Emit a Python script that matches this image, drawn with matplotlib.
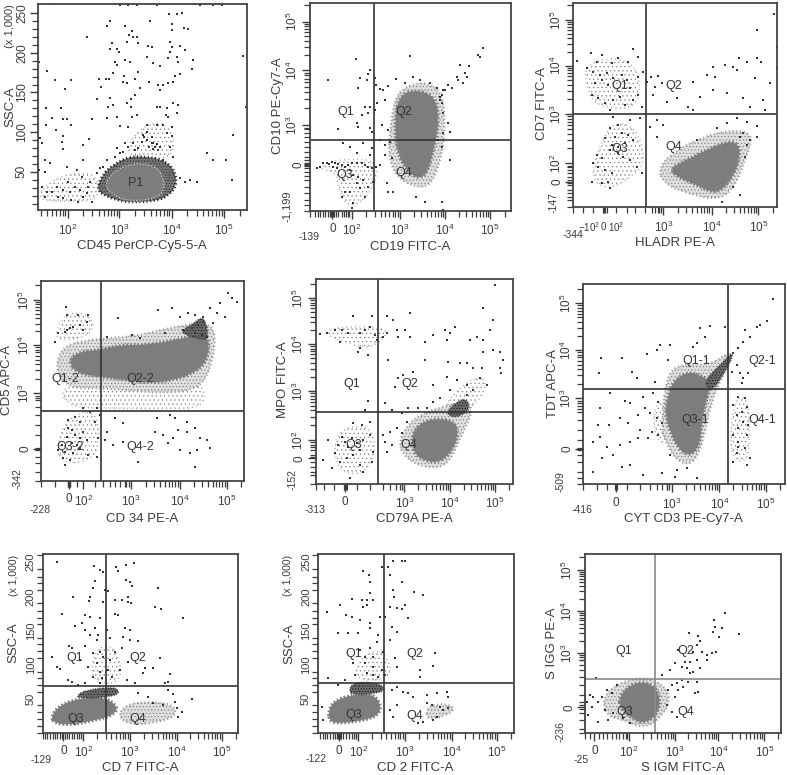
import numpy as np
import matplotlib
matplotlib.use("Agg")
import matplotlib.pyplot as plt
from matplotlib.path import Path
from matplotlib.patches import PathPatch

plt.rcParams['font.family'] = ['Liberation Sans', 'DejaVu Sans']
plt.rcParams['mathtext.fontset'] = 'custom'
plt.rcParams['mathtext.rm'] = 'Liberation Sans'
plt.rcParams['mathtext.default'] = 'regular'
plt.rcParams['hatch.linewidth'] = 0.4

W, H = 787, 775
INK = '#3c3c3c'

# values are read off the scan, in channel units of each plot
# panel 1
p1_dots = [(152,12),(360,14),(385,14),(410,14),(440,13),(470,14),(505,12),(530,9),(545,10),(575,13),(600,14),(640,14),(665,14),
 (507,42),(532,42),(545,38),(450,63),(330,63),(322,77),(375,77),(517,73),(517,90),(553,85),(563,88),(261,112),(395,92),(388,105),
 (400,110),(410,112),(380,125),(413,128),(335,130),(510,127),(515,142),(540,138),(330,148),(350,148),(358,155),(445,138),(455,142),
 (510,155),(556,150),(730,168),(117,185),(115,205),(142,213),(165,241),(213,241),(195,266),(298,238),(318,238),(328,238),(303,260),
 (345,185),(340,220),(350,195),(375,180),(390,185),(372,228),(405,237),(380,250),(370,245),(415,215),(440,170),(460,190),(480,198),
 (505,175),(530,170),(535,185),(578,180),(576,208),(540,222),(525,228),(520,245),(505,248),(448,245),(420,265),(392,297),(405,285),
 (475,255),(490,255),(480,270),(290,298),(330,295),(325,320),(340,315),(380,310),(392,320),(410,345),(350,350),(320,355),(275,358),
 (182,325),(137,325),(155,353),(190,357),(200,357),(137,375),(168,390),(212,375),(190,408),(185,425),(188,447),(120,415),(127,430),
 (112,440),(267,418),(248,436),(360,378),(385,380),(395,350),(470,320),(480,322),(500,325),(520,310),(533,315),(497,345),(505,352),
 (530,340),(440,375),(470,375),(490,375),(515,380),(500,400),(515,408),(430,405),(375,430),(400,430),(415,445),(440,420),(460,430),
 (475,450),(480,440),(490,480),(520,470),(510,440),(622,460),(638,480),(677,480),(700,405),(697,540),(738,320),(592,547),(570,540),
 (540,535),(555,545),(135,480),(150,488),(118,510),(135,515),(115,540),(125,560),(140,575),(155,575),(135,590),(175,590),(190,595),
 (212,600),(235,605),(250,590),(275,605),(240,570),(225,560),(245,530),(205,545),(210,575),(188,570),(170,560),(230,510),(200,500),
 (250,480),(270,545),(265,560),(260,580),(290,520),(300,505),(310,500),(320,480),(345,470),(360,460),(385,440),(455,430),(465,440),
 (470,432),(458,448),(448,440),(432,410),(425,425),(440,395),(455,410),(405,450),(370,455),(350,445)]
p1_core = [(315,555),(330,530),(350,510),(385,495),(420,490),(460,498),(480,515),(493,545),(490,575),(470,592),(440,600),(395,602),(360,595),(335,580)]
p1_fringe = [(290,565),(310,520),(340,495),(385,470),(440,470),(490,480),(525,510),(530,560),(500,590),(470,602),(395,608),(350,600),(310,585)]
p1_clouds = [[(115,600),(130,560),(200,520),(290,520),(300,600),(200,605)], [(360,470),(430,370),(510,370),(530,480)]]

# panel 2
p2_dots = [(175,240),(257,178),(205,388),(420,168),(640,143),(625,165),(630,170),(570,195),(598,198),(585,218),(562,230),(565,240),(590,232),
 (578,248),(300,210),(295,222),(270,235),(290,240),(315,235),(318,255),(378,238),(355,258),(330,268),(340,270),(265,265),(285,320),(300,320),
 (295,340),(275,345),(320,310),(345,300),(315,330),(262,368),(265,380),(300,385),(305,395),(335,375),(355,390),(535,255),(545,265),(525,270),
 (515,285),(510,300),(520,340),(535,370),(540,395),(540,480),(160,490),(150,500),(140,505),(170,488),(178,492),(185,485),(195,490),(205,492),
 (190,500),(200,505),(215,495),(225,500),(235,495),(245,490),(260,490),(275,490),(285,495),(295,500),(305,505),(318,500),(330,495),(240,510),
 (250,525),(265,530),(280,540),(260,550),(270,565),(285,590),(240,575),(225,575),(215,590),(250,610),(245,625),(295,560),(310,545),(220,430),
 (240,440),(260,460),(280,430),(305,445),(300,465),(345,465),(365,475),(350,550),(355,575),(370,575),(465,605),(438,590),(520,630),(515,605),
 (330,420),(345,435),(360,425),(505,420),(515,440),(520,400),(520,270),(515,310),(510,290),(500,265),(480,250),(450,240),(430,232),(405,250)]
p2_core = [(385,300),(410,275),(450,272),(490,290),(505,330),(502,400),(490,450),(470,525),(440,535),(410,510),(385,465),(375,400),(378,340)]
p2_fringe = [(360,390),(375,290),(410,258),(470,245),(520,280),(525,400),(510,490),(480,560),(430,560),(380,530),(355,470)]
p2_clouds = [[(140,505),(200,478),(310,478),(325,520),(290,600),(230,620),(205,570),(200,515)]]

# panel 3
p3_dots = [(142,182),(183,160),(215,165),(200,185),(170,205),(190,215),(210,225),(230,220),(245,190),(265,175),(295,185),(310,148),(325,170),
 (195,250),(215,240),(235,255),(250,235),(275,225),(290,240),(300,265),(325,230),(340,215),(185,285),(205,295),(225,310),(250,300),(270,290),
 (285,315),(310,300),(325,285),(335,320),(240,330),(362,230),(385,228),(375,260),(395,250),(350,245),(370,285),(410,305),(440,295),(475,320),
 (490,330),(510,290),(530,225),(555,230),(490,245),(550,200),(585,195),(610,200),(628,175),(650,185),(682,175),(693,185),(682,90),(733,42),
 (620,210),(675,235),(720,250),(740,205),(740,140),(590,280),(640,295),(700,300),(705,330),(660,320),(550,270),(250,350),(265,375),(300,360),
 (330,355),(240,385),(225,415),(255,410),(275,400),(245,435),(265,440),(285,430),(295,405),(310,420),(200,465),(215,475),(240,450),(265,460),
 (280,470),(205,500),(225,510),(245,520),(235,545),(215,548),(240,565),(190,490),(185,545),(300,480),(320,500),(335,520),(360,380),(380,360),
 (400,375),(380,410),(500,420),(560,385),(590,370),(620,355),(650,365),(680,378),(640,400),(630,410),(660,420),(650,435),(680,410),(645,470),
 (575,605),(630,585),(610,560)]
p3_core = [(420,505),(470,480),(530,450),(590,425),(625,430),(630,470),(610,530),(570,575),(540,575),(490,550),(440,530)]
p3_fringe = [(385,500),(440,450),(520,410),(600,390),(670,400),(650,470),(610,570),(560,600),(470,580),(400,550)]
p3_clouds = [[(170,190),(260,170),(330,210),(325,330),(190,320),(165,240)], [(190,490),(240,365),(320,380),(345,480),(320,520),(240,570),(190,545)]]

# panel 4
p4_dots = [(197,125),(200,150),(235,150),(265,150),(210,190),(200,195),(220,185),(240,180),(260,170),(250,195),(195,200),(175,205),(165,230),
 (355,160),(475,135),(515,130),(540,155),(565,145),(585,150),(610,155),(630,130),(660,115),(685,85),(695,100),(712,110),(650,145),(675,155),
 (640,175),(550,195),(575,190),(595,180),(610,170),(585,205),(605,210),(620,215),(495,205),(420,220),(395,210),(320,215),
 (215,495),(225,510),(240,520),(230,540),(215,535),(200,515),(205,490),(250,500),(260,525),(240,550),(220,565),(195,560),(185,540),(175,555),
 (210,585),(195,600),(190,580),(265,570),(290,575),(295,520),(285,470),(270,440),(250,430),(300,450),(290,430),(240,470),(225,455),(205,465),
 (315,525),(320,500),(340,540),(370,530),(345,460),(370,475),(415,590),(465,500),(490,510),(520,520),(535,495),(560,500),(585,490),(600,520),
 (525,460),(510,450),(470,460),(560,470),(620,525),(630,550),(590,555),(570,565),(585,605),(540,555),(505,535)]
p4_core = [(205,285),(240,260),(300,255),(360,240),(440,240),(530,225),(610,205),(628,230),(620,290),(580,325),(520,345),(450,355),(380,345),(300,335),(230,325)]
p4_fringe = [(165,320),(185,240),(300,220),(400,215),(500,190),(620,170),(650,210),(630,320),(590,375),(480,385),(380,375),(300,370),(210,370)]
p4_dark = [(545,195),(575,180),(605,155),(620,175),(625,225),(590,220),(555,210)]
p4_clouds = [[(165,200),(200,140),(275,150),(280,210),(180,230)], [(170,545),(200,460),(290,430),(300,560),(240,595),(185,590)],
             [(175,370),(300,350),(480,365),(610,350),(615,430),(480,430),(300,430),(210,425)]]

# panel 5
p5_dots = [(675,60),(640,130),(668,165),(250,153),(305,153),(352,153),(370,165),(420,145),(150,207),(170,205),(195,195),(215,195),(235,205),
 (270,205),(285,195),(300,185),(315,210),(320,225),(340,215),(350,205),(380,195),(405,195),(420,215),(385,215),(210,230),(270,250),(295,270),
 (265,260),(490,210),(465,232),(525,195),(540,205),(555,185),(530,225),(600,225),(620,215),(640,225),(660,195),(640,260),(670,255),(690,260),
 (698,285),(690,310),(692,325),(465,285),(535,290),(570,295),(590,295),(610,310),(635,310),(355,285),(385,340),(430,320),(400,330),(375,365),
 (490,360),(530,335),(560,345),(590,360),(630,340),(650,360),(610,375),(590,390),(540,375),(510,400),(490,410),(345,415),(295,408),(285,435),
 (365,435),(445,430),(470,430),(225,530),(235,545),(245,520),(260,535),(270,555),(280,525),(215,515),(205,540),(195,565),(210,590),(230,580),
 (250,570),(270,600),(240,640),(280,620),(300,510),(310,560),(305,590),(250,475),(275,480),(300,470),(160,585),(175,525),(185,610),(340,510),
 (360,500),(380,490),(395,505),(345,530),(365,540),(350,560),(410,470),(395,445),(415,430)]
p5_core = [(425,510),(450,475),(500,460),(555,470),(565,510),(545,560),(510,590),(470,590),(430,565)]
p5_fringe = [(385,530),(420,470),(470,440),(540,420),(590,410),(610,440),(570,520),(540,590),(500,610),(440,600),(400,570)]
p5_dark = [(530,440),(560,410),(590,400),(600,430),(570,455),(540,455)]
p5_clouds = [[(160,205),(200,185),(340,185),(350,215),(300,250),(230,235)], [(190,560),(210,490),(300,480),(320,560),(280,630),(210,620)],
             [(510,430),(600,340),(650,340),(640,390),(590,440)]]

# panel 6
p6_dots = [(730,103),(710,168),(690,180),(680,185),(645,195),(660,215),(640,230),(625,250),(610,265),(510,188),(540,183),(585,185),(525,215),
 (500,235),(490,245),(390,240),(420,240),(380,255),(350,268),(275,278),(212,278),(207,323),(305,320),(320,340),(375,350),(415,285),(240,385),
 (285,408),(300,415),(340,395),(370,385),(385,410),(210,430),(345,430),(360,445),(380,460),(395,475),(325,450),(270,460),(205,480),(238,480),
 (295,475),(330,495),(365,500),(385,510),(190,530),(210,515),(270,540),(300,530),(325,520),(355,520),(230,545),(250,570),(215,580),(190,620),
 (275,605),(300,600),(340,630),(395,625),(435,635),(500,640),(470,610),(440,615),(420,570),(610,420),(625,395),(645,400),(650,425),(635,440),
 (620,450),(640,470),(655,480),(625,490),(610,510),(625,530),(650,510),(645,550),(620,565),(610,590),(660,578),(650,600),(625,545),(635,355),
 (640,340),(655,325),(630,325),(605,320),(620,300)]
p6_core = [(430,350),(470,320),(510,330),(545,350),(530,400),(515,470),(510,540),(480,575),(445,550),(420,500),(405,440),(415,390)]
p6_fringe = [(395,470),(410,320),(470,295),(540,300),(590,265),(612,265),(545,400),(520,530),(490,600),(440,590),(400,520)]
p6_dark = [(530,340),(560,310),(590,280),(610,262),(600,295),(575,335),(548,375),(530,370)]
p6_clouds = [[(370,430),(400,400),(410,540),(375,520)], [(600,520),(615,400),(650,395),(660,470),(655,590),(610,585)]]

# panel 7
p7_dots = [(170,127),(282,137),(300,150),(348,142),(355,152),(378,135),(403,130),(310,155),(378,180),(390,185),(395,197),(285,183),(280,205),
 (315,210),(325,212),(475,203),(218,230),(270,230),(268,243),(385,232),(385,245),(310,245),(345,240),(365,240),(392,248),(465,262),(482,268),
 (187,282),(255,285),(270,292),(300,295),(345,282),(355,285),(550,295),(225,317),(245,310),(285,325),(320,330),(375,325),(390,330),(295,345),
 (255,330),(270,345),(290,360),(330,355),(370,350),(390,360),(415,363),(208,378),(215,383),(255,378),(280,400),(300,395),(345,395),(365,385),
 (155,410),(480,415),(240,420),(265,440),(290,430),(310,410),(330,420),(385,425),(170,440),(180,448),(300,455),(325,450),(360,450),(435,445),
 (460,445),(510,462),(205,480),(215,485),(280,470),(305,475),(335,470),(380,480),(430,460),(495,490),(505,485),(235,495),(255,490),(300,490),
 (405,490),(520,522),(505,510),(575,537),(415,520),(445,530),(460,550),(490,555),(525,545),(530,565),(545,575),(535,590)]
p7_core = [(152,590),(180,555),(240,535),(310,530),(355,560),(340,585),(290,600),(210,615),(165,610)]
p7_fringe = [(370,560),(420,545),(520,550),(530,590),(450,612),(385,612),(355,590)]
p7_dark = [(230,525),(260,510),(340,500),(360,515),(340,530),(240,535)]
p7_clouds = [[(270,490),(285,380),(350,380),(370,490)]]

# panel 8
p8_dots = [(172,275),(210,255),(245,237),(280,152),(297,165),(300,185),(335,140),(355,140),(360,165),(368,122),(395,122),(405,122),(395,185),
 (300,220),(290,240),(310,240),(275,240),(280,262),(290,255),(433,215),(460,225),(370,210),(372,232),(360,262),(380,265),(405,255),(395,268),
 (228,285),(245,290),(270,300),(300,310),(330,290),(345,290),(415,295),(205,340),(235,340),(265,340),(300,325),(325,345),(365,320),(380,335),
 (360,360),(320,365),(300,385),(270,390),(285,410),(310,410),(340,395),(375,415),(495,400),(248,430),(285,430),(310,440),(335,450),(380,440),
 (450,450),(490,437),(450,470),(255,465),(290,460),(310,465),(325,470),(345,465),(175,475),(205,495),(225,480),(380,500),(400,515),(470,525),
 (500,520),(530,515),(535,530),(430,530),(415,520),(365,510),(155,560),(160,600),(470,550),(485,555),(510,560),(520,570),(535,565),(500,590),
 (490,600),(460,605),(445,610),(380,555),(360,570),(370,590)]
p8_core = [(175,575),(190,545),(240,525),(310,520),(335,560),(320,590),(260,605),(195,610),(178,600)]
p8_fringe = [(470,560),(520,550),(560,565),(520,590),(470,600)]
p8_dark = [(235,510),(255,485),(330,490),(345,510),(320,520),(250,525)]
p8_clouds = [[(245,480),(280,400),(345,390),(370,480)]]

# panel 9
p9_dots = [(198,475),(585,278),(552,300),(575,323),(555,322),(548,337),(568,350),(627,343),(477,340),(503,348),(510,362),(500,375),(445,390),
 (517,395),(490,395),(558,395),(545,400),(530,405),(500,420),(480,425),(465,425),(435,430),(470,445),(490,455),(510,445),(530,420),(455,440),
 (420,450),(395,465),(480,460),(500,485),(475,485),(455,480),(440,490),(425,495),(445,510),(435,530),(415,510),(460,500),(495,520),(505,517),
 (410,555),(440,590),(425,575),(180,525),(190,530),(215,530),(170,545),(185,560),(205,545),(225,570),(175,585),(205,605),(245,520),(262,495),
 (230,510),(250,580),(280,595),(300,610),(235,600)]
p9_core = [(268,530),(300,495),(345,485),(385,510),(390,560),(370,595),(335,610),(300,590),(270,565)]
p9_fringe = [(215,545),(250,495),(340,468),(410,500),(420,550),(385,600),(340,625),(280,600),(235,590)]

def log_minors(decades, lo, hi):
    # log spaced ticks between the labelled decades, also one decade past each end
    pos = sorted(decades.items())
    step = pos[1][1] - pos[0][1]
    vals = [pos[0][1] - step] + [v for k, v in pos]
    out = []
    for i, v in enumerate(vals):
        s = (vals[i + 1] - v) if i + 1 < len(vals) else step
        for k in range(2, 10):
            t = v + s * np.log10(k)
            if min(lo, hi) <= t <= max(lo, hi):
                out.append(t)
    return out

def round_path(pts):
    # closed outline with rounded corners, the read points are the control points
    p = np.array(pts, dtype=float)
    n = len(p)
    mids = (p + np.roll(p, -1, axis=0)) / 2
    verts = [mids[-1]]
    codes = [Path.MOVETO]
    for i in range(n):
        verts += [p[i], mids[i]]
        codes += [Path.CURVE3, Path.CURVE3]
    return Path(verts, codes)

def blob(ax, pts, face, hatch_col=None, hatch=None, rim=None):
    path = round_path(pts)
    if hatch:
        ax.add_patch(PathPatch(path, facecolor=face, edgecolor=hatch_col, hatch=hatch, linewidth=0))
    else:
        ax.add_patch(PathPatch(path, facecolor=face, edgecolor='none', linewidth=0))
    if rim:
        # stippled rim so the edge of a cloud is not a clean line
        ax.add_patch(PathPatch(path, facecolor='none', edgecolor=rim[0], linewidth=rim[1], linestyle=(0, rim[2])))

def panel(off, frame, gate, xdec, ydec, xlabel, ylabel, dots, core, fringe, tags,
          xlow=(), ylow=(), xzero=None, yzero=None, dark=None, extra=(), gatecol='#333333', fringe_dark=False, clouds=()):
    ox, oy = off
    x0, x1, y0, y1 = frame
    left = (ox + x0 / 3) / W
    top = (oy + y0 / 3) / H
    w = (x1 - x0) / 3 / W
    h = (y1 - y0) / 3 / H
    ax = fig.add_axes([left, 1 - top - h, w, h])
    ax.set_xlim(x0, x1)
    ax.set_ylim(y1, y0)

    for c in clouds:
        blob(ax, c, 'none', '#808080', '....', ('#8a8a8a', 1.2, (0.4, 2.2)))
    if fringe_dark:
        blob(ax, fringe, '#777777', '#1c1c1c', '......', ('#222222', 2.0, (0.4, 0.9)))
    else:
        blob(ax, fringe, '#dedede', '#7a7a7a', '.....', ('#8c8c8c', 1.6, (0.4, 1.3)))
    blob(ax, core, '#7d7d7d', rim=('#7d7d7d', 2.4, (0.5, 0.6)))
    if dark is not None:
        blob(ax, dark, '#6a6a6a', '#111111', '......', ('#333333', 1.3, (0.4, 1.0)))
    px, py = zip(*dots)
    ax.scatter(px, py, s=1.0, c='#333333', marker='s', linewidths=0)

    if gate is not None:
        ax.axvline(gate[0], color=gatecol, lw=1.2)
        ax.axhline(gate[1], color=gatecol, lw=1.2)

    xm = [v for k, v in xdec.items()]
    xl = ['$10^{%d}$' % k for k in xdec]
    ym = [v for k, v in ydec.items()]
    yl = ['$10^{%d}$' % k for k in ydec]
    if xzero is not None:
        xm.append(xzero)
        xl.append('0')
    if yzero is not None:
        ym.append(yzero)
        yl.append('0')
    ax.set_xticks(xm, xl)
    ax.set_yticks(ym, yl)
    xmin = log_minors(xdec, x0, x1) if xdec else []
    ymin = log_minors(ydec, y0, y1) if len(ydec) > 1 else []
    xmin = [t for t in xmin if not xlow or t > max(xlow)]
    ymin = [t for t in ymin if not ylow or t < min(ylow)]
    ax.set_xticks(xmin + list(xlow), minor=True)
    ax.set_yticks(ymin + list(ylow), minor=True)
    ax.tick_params(which='major', length=6, width=1, color=INK, labelcolor=INK, labelsize=8.5, pad=3)
    ax.tick_params(which='minor', length=4, width=0.9, color=INK)
    ax.tick_params(axis='y', which='major', labelrotation=90, pad=1)
    for t in ax.get_yticklabels():
        t.set_va('center')
    for s in ax.spines.values():
        s.set_linewidth(1.3)
        s.set_color('#444444')

    ax.text(xlabel[1], xlabel[2], xlabel[0], ha='center', va='center', fontsize=9.5, color=INK, clip_on=False)
    ax.text(ylabel[1], ylabel[2], ylabel[0], ha='center', va='center', rotation=90, fontsize=9.5, color=INK, clip_on=False)
    for tag, tx, ty in tags:
        ax.text(tx, ty, tag, ha='center', va='center', fontsize=9, color='#333333')
    for tag, tx, ty, rot, size in extra:
        ax.text(tx, ty, tag, ha='center', va='center', rotation=rot, fontsize=size, color=INK, clip_on=False)
    return ax

fig = plt.figure(figsize=(W / 100, H / 100), dpi=100)

ssc_ticks_1 = [62, 86, 110, 134, 182, 206, 230, 254, 299, 323, 347, 371, 419, 443, 467, 491, 539, 563, 587, 611]
ax1 = panel((0, 0), (113, 741, 12, 630), None, {2: 203, 3: 358, 4: 515, 5: 672}, {}, ('CD45 PerCP-Cy5-5-A', 425, 738),
      ('SSC-A', 32, 320), p1_dots, p1_core, p1_fringe, [('P1', 408, 548)], ylow=ssc_ticks_1,
      extra=[('(x 1,000)', 30, 78, 90, 8)], fringe_dark=True, clouds=p1_clouds)
ax1.set_yticks([515, 395, 277, 158, 38], ['50', '100', '150', '200', '250'])
for t in ax1.get_yticklabels():
    t.set_va('center')
ax1.add_patch(PathPatch(round_path(p1_core), facecolor='none', edgecolor='#d8d8d8', lw=0.8, ls=':'))

panel((270, 0), (120, 722, 10, 632), (312, 420), {2: 245, 3: 390, 4: 525, 5: 660}, {3: 375, 4: 210, 5: 65},
      ('CD19 FITC-A', 420, 740), ('CD10 PE-Cy7-A', 25, 318), p2_dots, p2_core, p2_fringe,
      [('Q1', 228, 335), ('Q2', 402, 335), ('Q3', 225, 525), ('Q4', 400, 520)],
      xlow=[120, 135, 145, 150, 158, 165, 175, 180, 184, 187, 190, 193, 197, 205, 215, 222, 228, 235],
      ylow=[632, 615, 600, 580, 560, 540, 528, 515, 505, 498, 495, 492, 488, 480, 470, 455, 440, 425, 410, 398, 388],
      xzero=187, extra=[('-139', 118, 712, 0, 7.5), ('-1,199', 52, 618, 90, 8), ('0', 85, 495, 90, 8.5)], clouds=p2_clouds)

panel((530, 0), (130, 742, 8, 622), (348, 342), {3: 400, 4: 545, 5: 685}, {2: 490, 3: 342, 4: 197, 5: 60},
      ('HLADR PE-A', 435, 730), ('CD7 FITC-A', 36, 310), p3_dots, p3_core, p3_fringe,
      [('Q1', 268, 258), ('Q2', 430, 258), ('Q3', 270, 448), ('Q4', 430, 442)],
      xlow=[130, 160, 190, 218, 222, 226, 230, 258, 290, 315, 345, 365, 375, 385],
      ylow=[622, 600, 590, 580, 570, 555, 548, 545, 540, 530, 520, 510, 500],
      yzero=545, clouds=p3_clouds,
      extra=[('-344', 128, 704, 0, 7.5), ('$-10^{2}$', 176, 682, 0, 7), ('0', 220, 682, 0, 7),
             ('$10^{2}$', 258, 682, 0, 7), ('-147', 70, 608, 90, 7.5)])

panel((0, 265), (124, 733, 48, 648), (304, 437), {2: 250, 3: 392, 4: 540, 5: 680}, {3: 385, 4: 240, 5: 105},
      ('CD 34 PE-A', 425, 762), ('CD5 APC-A', 22, 345), p4_dots, p4_core, p4_fringe,
      [('Q1-2', 195, 343), ('Q2-2', 420, 343), ('Q3-2', 210, 545), ('Q4-2', 420, 547)],
      xlow=[124, 165, 203, 205, 207, 209, 211, 232, 285, 310, 330, 345, 360, 375],
      ylow=[648, 620, 595, 575, 549, 552, 555, 510, 480, 450, 425, 405],
      xzero=207, yzero=552, dark=p4_dark, clouds=p4_clouds,
      extra=[('-228', 120, 735, 0, 7.5), ('-342', 52, 640, 90, 7.5)])

panel((270, 265), (137, 728, 43, 656), (325, 441), {3: 403, 4: 540, 5: 675}, {2: 525, 3: 378, 4: 237, 5: 100},
      ('CD79A PE-A', 432, 762), ('MPO FITC-A', 40, 345), p5_dots, p5_core, p5_fringe,
      [('Q1', 245, 357), ('Q2', 418, 357), ('Q3', 250, 540), ('Q4', 415, 540)],
      xlow=[137, 163, 192, 222, 225, 228, 231, 260, 300, 340, 360, 378, 390],
      ylow=[656, 630, 620, 605, 590, 580, 575, 570, 555, 545],
      xzero=225, yzero=580, dark=p5_dark, clouds=p5_clouds,
      extra=[('-313', 135, 735, 0, 7.5), ('-152', 68, 642, 90, 7.5)])

panel((530, 265), (160, 764, 57, 658), (595, 371), {3: 425, 4: 568, 5: 708}, {3: 400, 4: 255, 5: 115},
      ('CYT CD3 PE-Cy7-A', 460, 762), ('TDT APC-A', 68, 355), p6_dots, p6_core, p6_fringe,
      [('Q1-1', 498, 287), ('Q2-1', 697, 287), ('Q3-1', 497, 465), ('Q4-1', 697, 465)],
      xlow=[160, 200, 230, 255, 258, 261, 290, 330, 360, 380, 395, 410],
      ylow=[658, 640, 620, 590, 570, 549, 552, 555, 525, 495, 465, 440],
      xzero=258, yzero=552, dark=p6_dark, clouds=p6_clouds,
      extra=[('-416', 157, 735, 0, 7.5), ('-509', 92, 650, 90, 7.5)])

ssc7 = [638, 617, 596, 575, 556, 516, 495, 475, 455, 413, 393, 373, 353, 313, 293, 273, 250, 210, 190, 170, 148, 105]
panel((0, 520), (128, 715, 103, 638), (318, 498), {2: 250, 3: 390, 4: 530, 5: 665}, {},
      ('CD 7 FITC-A', 420, 745), ('SSC-A', 40, 367), p7_dots, p7_core, p7_fringe,
      [('Q1', 225, 413), ('Q2', 412, 413), ('Q3', 228, 597), ('Q4', 412, 597)],
      xlow=[128, 135, 142, 150, 158, 165, 172, 180, 185, 190, 195, 200, 208, 215, 222, 230, 238, 244],
      ylow=ssc7, xzero=190, dark=p7_dark, clouds=p7_clouds,
      extra=[('-129', 122, 720, 0, 7.5), ('(x 1,000)', 42, 165, 90, 7.5), ('50', 92, 537, 90, 8), ('100', 92, 433, 90, 8),
             ('150', 92, 333, 90, 8), ('200', 92, 230, 90, 8), ('250', 92, 125, 90, 8)])

panel((270, 520), (143, 732, 103, 638), (341, 489), {2: 265, 3: 405, 4: 545, 5: 680}, {},
      ('CD 2 FITC-A', 437, 745), ('SSC-A', 58, 370), p8_dots, p8_core, p8_fringe,
      [('Q1', 250, 403), ('Q2', 435, 403), ('Q3', 250, 585), ('Q4', 435, 587)],
      xlow=[150, 158, 165, 172, 180, 188, 195, 200, 204, 207, 210, 214, 220, 228, 236, 245, 252, 258],
      ylow=ssc7, xzero=207, dark=p8_dark, clouds=p8_clouds,
      extra=[('-122', 138, 718, 0, 7.5), ('(x 1,000)', 55, 165, 90, 7.5), ('50', 108, 537, 90, 8), ('100', 108, 433, 90, 8),
             ('150', 108, 333, 90, 8), ('200', 108, 230, 90, 8), ('250', 108, 125, 90, 8)])

panel((530, 520), (165, 754, 103, 638), (374, 478), {2: 297, 3: 435, 4: 565, 5: 703}, {3: 400, 4: 273, 5: 150},
      ('S IGM FITC-A', 458, 745), ('S IGG PE-A', 65, 370), p9_dots, p9_core, p9_fringe,
      [('Q1', 280, 394), ('Q2', 468, 394), ('Q3', 283, 575), ('Q4', 467, 575)],
      xlow=[165, 180, 193, 207, 220, 232, 245, 258, 268, 278, 288],
      ylow=[638, 628, 600, 580, 568, 562, 556, 545, 525, 495, 470, 450, 435, 420],
      xzero=193, yzero=562, gatecol='#8a8a8a',
      extra=[('-25', 152, 720, 0, 7.5), ('-236', 92, 635, 90, 7.5)])

fig.savefig('out.png', dpi=100)
plt.close(fig)
